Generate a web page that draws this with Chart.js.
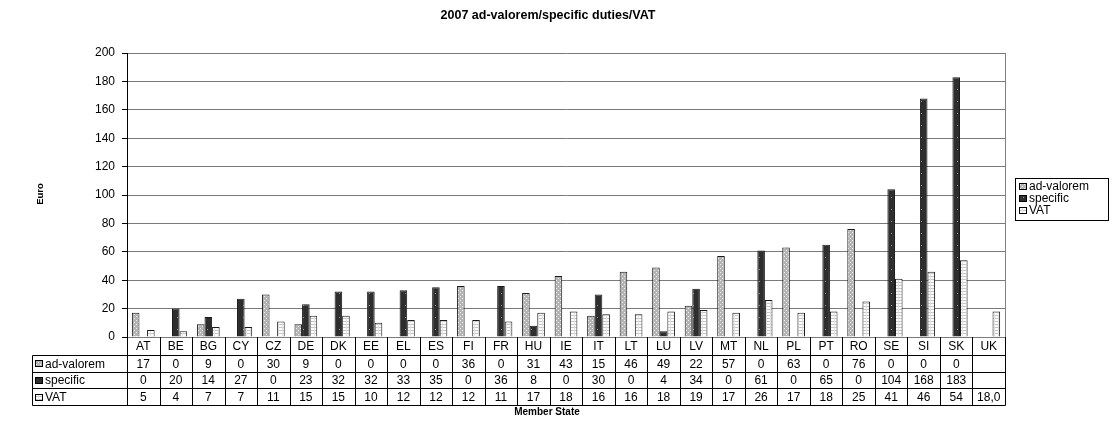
<!DOCTYPE html>
<html>
<head>
<meta charset="utf-8">
<script src="https://cdn.jsdelivr.net/npm/chart.js@4/dist/chart.umd.min.js"></script>
<style>
html, body { margin: 0; padding: 0; background: #fff; }
</style>
</head>
<body>
<canvas id="dutiesChart" width="1113" height="423"></canvas>
<script>
const memberStates = ['AT', 'BE', 'BG', 'CY', 'CZ', 'DE', 'DK', 'EE', 'EL', 'ES', 'FI', 'FR', 'HU', 'IE', 'IT',
    'LT', 'LU', 'LV', 'MT', 'NL', 'PL', 'PT', 'RO', 'SE', 'SI', 'SK', 'UK'];
const adValorem = [17, 0, 9, 0, 30, 9, 0, 0, 0, 0, 36, 0, 31, 43, 15, 46, 49, 22, 57, 0, 63, 0, 76, 0, 0, 0, null];
const specific = [0, 20, 14, 27, 0, 23, 32, 32, 33, 35, 0, 36, 8, 0, 30, 0, 4, 34, 0, 61, 0, 65, 0, 104, 168, 183, null];
const vat = [5, 4, 7, 7, 11, 15, 15, 10, 12, 12, 12, 11, 17, 18, 16, 16, 18, 19, 17, 26, 17, 18, 25, 41, 46, 54, 18.0];
const seriesNames = ['ad-valorem', 'specific', 'VAT'];
const yMin = 0;
const yMax = 200;
const yStep = 20;

const FONT = '"Liberation Sans", Arial, sans-serif';

function makePattern(w, h, paint) {
    const c = document.createElement('canvas');
    c.width = w;
    c.height = h;
    paint(c.getContext('2d'));
    return c.getContext('2d').createPattern(c, 'repeat');
}

const adValoremFill = makePattern(4, 4, g => {
    g.fillStyle = '#b4b4b4';
    g.fillRect(0, 0, 4, 4);
    g.fillStyle = '#f2f2f2';
    g.fillRect(0, 0, 1, 1);
    g.fillRect(2, 2, 1, 1);
});

const specificFill = makePattern(6, 12, g => {
    g.fillStyle = '#2e2e2e';
    g.fillRect(0, 0, 6, 12);
    g.fillStyle = '#9a9a9a';
    g.fillRect(3, 5, 1, 1);
});

const vatFill = makePattern(4, 3, g => {
    g.fillStyle = '#ffffff';
    g.fillRect(0, 0, 4, 3);
    g.fillStyle = '#c4c4c4';
    g.fillRect(0, 0, 4, 1);
    g.fillStyle = '#e2e2e2';
    g.fillRect(2, 0, 1, 3);
});

const seriesFills = [adValoremFill, specificFill, vatFill];
const seriesValues = [adValorem, specific, vat];

function formatCell(value, index) {
    if (value === null) return '';
    if (memberStates[index] === 'UK') return value.toFixed(1).replace('.', ',');
    return String(Math.round(value));
}

function drawKey(ctx, x, y, fill) {
    ctx.fillStyle = fill;
    ctx.fillRect(x, y, 7, 6);
    ctx.strokeStyle = '#000';
    ctx.lineWidth = 1;
    ctx.strokeRect(x + 0.5, y + 0.5, 7, 6);
}

const extrasPlugin = {
    id: 'extras',
    afterDraw(chart) {
        const ctx = chart.ctx;
        const area = chart.chartArea;
        const xScale = chart.scales.x;
        const colWidth = (area.right - area.left) / memberStates.length;

        ctx.save();

        // right border of the plot
        ctx.strokeStyle = '#808080';
        ctx.lineWidth = 1;
        ctx.beginPath();
        ctx.moveTo(Math.round(area.right) + 0.5, area.top);
        ctx.lineTo(Math.round(area.right) + 0.5, area.bottom);
        ctx.stroke();

        // title
        ctx.fillStyle = '#000';
        ctx.textAlign = 'center';
        ctx.textBaseline = 'middle';
        ctx.font = 'bold 12.5px ' + FONT;
        ctx.fillText('2007 ad-valorem/specific duties/VAT', 548, 16);

        // y axis title
        ctx.save();
        ctx.translate(40, 194);
        ctx.rotate(-Math.PI / 2);
        ctx.font = 'bold 9.5px ' + FONT;
        ctx.fillText('Euro', 0, 0);
        ctx.restore();

        // data table
        const rowTops = [337, 355, 371.5, 388, 405];
        const tableLeft = 32;
        const right = Math.round(area.right) + 0.5;
        ctx.strokeStyle = '#000';
        ctx.beginPath();
        rowTops.slice(1).forEach(y => {
            const yy = Math.round(y) + 0.5;
            ctx.moveTo(tableLeft + 0.5, yy);
            ctx.lineTo(right, yy);
        });
        ctx.moveTo(tableLeft + 0.5, Math.round(rowTops[1]) + 0.5);
        ctx.lineTo(tableLeft + 0.5, Math.round(rowTops[4]) + 0.5);
        for (let i = 0; i <= memberStates.length; i++) {
            const x = Math.round(area.left + i * colWidth) + 0.5;
            ctx.moveTo(x, rowTops[0]);
            ctx.lineTo(x, Math.round(rowTops[4]) + 0.5);
        }
        ctx.stroke();

        ctx.font = '12px ' + FONT;
        ctx.textAlign = 'center';
        ctx.fillStyle = '#000';
        memberStates.forEach((state, i) => {
            const cx = xScale.getPixelForValue(i);
            ctx.fillText(state, cx, (rowTops[0] + rowTops[1]) / 2 + 1);
            seriesValues.forEach((values, s) => {
                ctx.fillText(formatCell(values[i], i), cx, (rowTops[s + 1] + rowTops[s + 2]) / 2 + 1);
            });
        });

        ctx.textAlign = 'left';
        seriesNames.forEach((name, s) => {
            const cy = (rowTops[s + 1] + rowTops[s + 2]) / 2;
            drawKey(ctx, 35, Math.round(cy) - 3, seriesFills[s]);
            ctx.fillStyle = '#000';
            ctx.fillText(name, 45, cy + 1);
        });

        // x axis title
        ctx.textAlign = 'center';
        ctx.font = 'bold 10px ' + FONT;
        ctx.fillText('Member State', 547, 412);

        // legend
        ctx.strokeStyle = '#000';
        ctx.strokeRect(1015.5, 178.5, 93, 42);
        ctx.font = '12px ' + FONT;
        ctx.textAlign = 'left';
        seriesNames.forEach((name, s) => {
            const cy = 186 + s * 12;
            drawKey(ctx, 1019, cy - 3, seriesFills[s]);
            ctx.fillStyle = '#000';
            ctx.fillText(name, 1029, cy + 1);
        });

        ctx.restore();
    }
};

const ctx = document.getElementById('dutiesChart').getContext('2d');
new Chart(ctx, {
    type: 'bar',
    data: {
        labels: memberStates,
        datasets: seriesNames.map((name, s) => ({
            label: name,
            data: seriesValues[s],
            backgroundColor: seriesFills[s],
            borderColor: '#1a1a1a',
            borderWidth: 1,
            categoryPercentage: 0.7,
            barPercentage: 1.0
        }))
    },
    options: {
        responsive: false,
        animation: false,
        layout: {
            padding: { top: 53, right: 108, bottom: 86, left: 0 }
        },
        plugins: {
            legend: { display: false },
            title: { display: false },
            tooltip: { enabled: false }
        },
        scales: {
            x: { display: false },
            y: {
                min: yMin,
                max: yMax,
                ticks: {
                    stepSize: yStep,
                    color: '#000',
                    padding: 7,
                    font: { family: FONT, size: 12 }
                },
                grid: { color: '#7a7a7a', tickLength: 5, tickColor: '#000' },
                border: { color: '#000' },
                afterFit(axis) {
                    axis.width = 127;
                }
            }
        }
    },
    plugins: [extrasPlugin]
});
</script>
</body>
</html>
